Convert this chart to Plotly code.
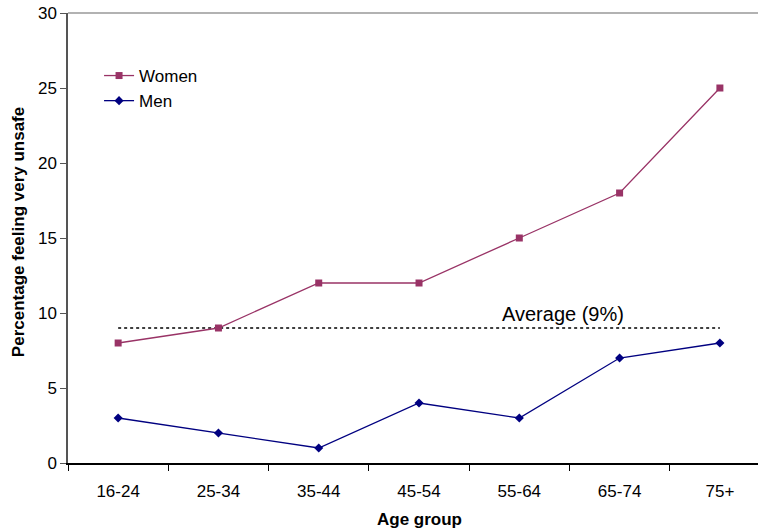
import plotly.graph_objects as go

age_groups = ["16-24", "25-34", "35-44", "45-54", "55-64", "65-74", "75+"]
women = [8, 9, 12, 12, 15, 18, 25]
men = [3, 2, 1, 4, 3, 7, 8]
average = 9

font_name = "Liberation Sans, Arial, sans-serif"

fig = go.Figure()

fig.add_trace(go.Scatter(x=age_groups, y=[average] * len(age_groups), mode='lines',
                         line=dict(color='black', width=1.6, dash='dot'),
                         showlegend=False, hoverinfo='skip'))
fig.add_trace(go.Scatter(x=age_groups, y=women, mode='lines+markers', name='Women',
                         line=dict(color='#993366', width=1.3),
                         marker=dict(symbol='square', size=7, color='#993366')))
fig.add_trace(go.Scatter(x=age_groups, y=men, mode='lines+markers', name='Men',
                         line=dict(color='#000080', width=1.3),
                         marker=dict(symbol='diamond', size=7, color='#000080')))

fig.update_layout(
    width=758, height=528,
    margin=dict(l=68, r=0, t=13, b=65),
    paper_bgcolor='white', plot_bgcolor='white',
    font=dict(family=font_name, size=17, color='black'),
    legend=dict(x=0.045, y=0.9, xanchor='left', yanchor='top',
                bgcolor='rgba(0,0,0,0)', font=dict(size=17),
                itemwidth=30, tracegroupgap=0),
    xaxis=dict(type='category', range=[-0.5, 6.38], tickson='boundaries',
               ticks='outside', ticklen=6, tickcolor='black',
               ticklabelstandoff=12, automargin=False,
               showline=True, linecolor='black', linewidth=1.5,
               showgrid=False, zeroline=False),
    yaxis=dict(range=[0, 30], dtick=5, ticks='outside', ticklen=6,
               tickcolor='#555555', showline=True, linecolor='#555555',
               linewidth=1.5, showgrid=False, zeroline=False, automargin=False),
    shapes=[dict(type='line', xref='paper', yref='paper', x0=0, x1=1, y0=1, y1=1,
                 line=dict(color='#999999', width=1.5))],
    annotations=[
        dict(text='Average (9%)', x=4.44, y=average, xref='x', yref='y',
             yanchor='bottom', showarrow=False, yshift=1, font=dict(size=20)),
        dict(text='<b>Age group</b>', x=3, y=0, xref='x', yref='paper',
             yanchor='middle', yshift=-56, showarrow=False, font=dict(size=17)),
        dict(text='<b>Percentage feeling very unsafe</b>', x=0, y=0.513,
             xref='paper', yref='paper', xanchor='center', yanchor='middle',
             xshift=-50, textangle=-90, showarrow=False, font=dict(size=17)),
    ],
)

# drop the default 8px body margin so the figure fills the window
fig.write_html("out.html", config={'displayModeBar': False},
               post_script="document.body.style.margin='0';")
